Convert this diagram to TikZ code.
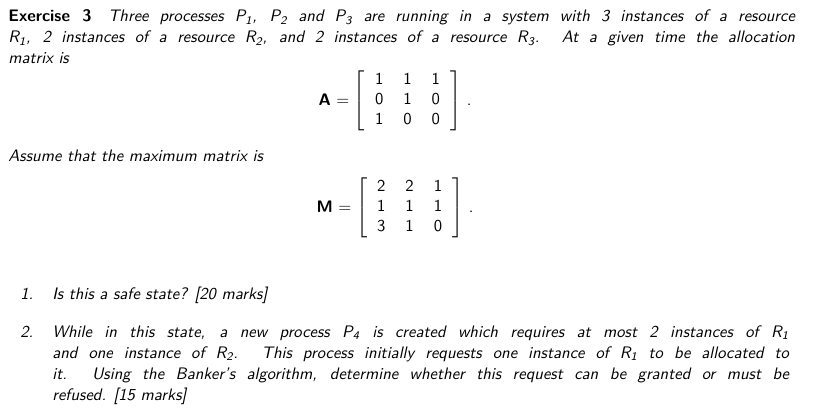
\documentclass[tikz,border=0pt]{standalone}
\renewcommand{\familydefault}{\sfdefault}
\tikzset{ln/.style={anchor=base west,inner sep=0pt,font=\sffamily\itshape},
 mat/.style={anchor=center,inner sep=0pt,font=\sffamily}}
\newcommand{\jl}[2]{\makebox[#1][s]{#2}}
\begin{document}
\begin{tikzpicture}[x=0.6pt,y=-0.6pt]
\useasboundingbox (0,0) rectangle (826,419);
\node[ln] (l1) at (8,22) {\jl{472pt}{\textbf{\upshape Exercise 3}\quad Three processes P\textsubscript{1}, P\textsubscript{2} and P\textsubscript{3} are running in a system with 3 instances of a resource}};
\node[ln] (l2) at (8,43) {\jl{472pt}{R\textsubscript{1}, 2 instances of a resource R\textsubscript{2}, and 2 instances of a resource R\textsubscript{3}. At a given time the allocation}};
\node[ln] (l3) at (8,64) {matrix is};
\node[mat] (ma) at (395,101) {\textbf{A} $=\left[\vcenter{\hbox{\begin{tabular}{ccc}1&1&1\\0&1&0\\1&0&0\end{tabular}}}\right]$\ .};
\node[ln] (l4) at (8,162) {Assume that the maximum matrix is};
\node[mat] (mm) at (395,208) {\textbf{M} $=\left[\vcenter{\hbox{\begin{tabular}{ccc}2&2&1\\1&1&1\\3&1&0\end{tabular}}}\right]$\ .};
\node[ln] (i1) at (20,299) {1.};
\node[ln] (t1) at (52,299) {Is this a safe state? [20 marks]};
\node[ln] (i2) at (20,337) {2.};
\node[ln] (t2) at (52,337) {\jl{442pt}{While in this state, a new process P\textsubscript{4} is created which requires at most 2 instances of R\textsubscript{1}}};
\node[ln] (t3) at (52,358) {\jl{442pt}{and one instance of R\textsubscript{2}. This process initially requests one instance of R\textsubscript{1} to be allocated to}};
\node[ln] (t4) at (52,379) {\jl{442pt}{it. Using the Banker's algorithm, determine whether this request can be granted or must be}};
\node[ln] (t5) at (52,400) {refused. [15 marks]};
\end{tikzpicture}
\end{document}
